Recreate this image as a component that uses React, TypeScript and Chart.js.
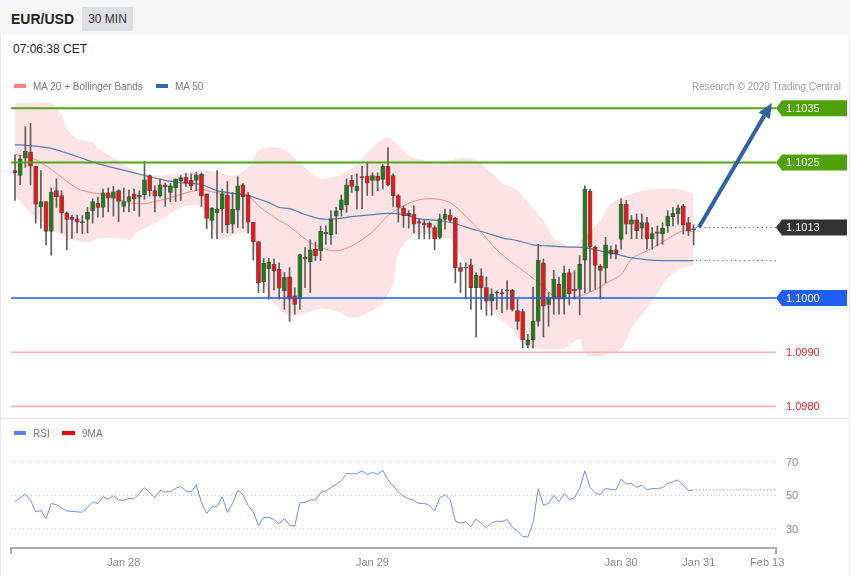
import React, { useEffect, useRef } from "react";
import { Chart, registerables } from "chart.js";

Chart.register(...registerables);

const FONT = '"Liberation Sans", Arial, Helvetica, sans-serif';

// ---------- Candles (EUR/USD, 30 min) ----------
const candleOpen = [
  1.10235, 1.10226, 1.10258, 1.10269, 1.10243, 1.10168, 1.10178, 1.10123, 1.10198, 1.10189,
  1.10157, 1.10149, 1.10146, 1.10139, 1.10145, 1.10161, 1.10175, 1.10167, 1.10194, 1.10184,
  1.10198, 1.10169, 1.10178, 1.10192, 1.10186, 1.10190, 1.10226, 1.10198, 1.10188, 1.10209,
  1.10195, 1.10203, 1.10216, 1.10223, 1.10217, 1.10217, 1.10228, 1.10192, 1.10143, 1.10157,
  1.10165, 1.10190, 1.10136, 1.10162, 1.10209, 1.10190, 1.10140, 1.10104, 1.10030, 1.10054,
  1.10062, 1.10053, 1.10013, 1.10039, 1.10004, 1.09998, 1.10075, 1.10067, 1.10090, 1.10087,
  1.10118, 1.10117, 1.10151, 1.10163, 1.10172, 1.10217, 1.10198, 1.10224, 1.10225, 1.10217,
  1.10225, 1.10219, 1.10243, 1.10226, 1.10189, 1.10166, 1.10156, 1.10155, 1.10141, 1.10138,
  1.10138, 1.10130, 1.10112, 1.10145, 1.10153, 1.10147, 1.10056, 1.10055, 1.10061, 1.10019,
  1.10041, 1.10019, 1.09994, 1.10011, 1.10010, 1.10013, 1.10014, 1.09977, 1.09975, 1.09914,
  1.09923, 1.09957, 1.10065, 1.09988, 1.09998, 1.10025, 1.09998, 1.10047, 1.10016, 1.10016,
  1.10070, 1.10197, 1.10094, 1.10059, 1.10055, 1.10081, 1.10089, 1.10108, 1.10173, 1.10136,
  1.10144, 1.10129, 1.10139, 1.10109, 1.10122, 1.10118, 1.10133, 1.10150, 1.10155, 1.10170,
  1.10139, 1.10126,
];
const candleHigh = [
  1.10264, 1.10263, 1.10316, 1.10322, 1.10243, 1.10235, 1.10178, 1.10203, 1.10220, 1.10198,
  1.10159, 1.10153, 1.10153, 1.10152, 1.10167, 1.10183, 1.10186, 1.10201, 1.10203, 1.10206,
  1.10200, 1.10203, 1.10199, 1.10201, 1.10198, 1.10252, 1.10227, 1.10207, 1.10220, 1.10212,
  1.10212, 1.10220, 1.10226, 1.10230, 1.10229, 1.10232, 1.10231, 1.10192, 1.10167, 1.10235,
  1.10201, 1.10215, 1.10195, 1.10224, 1.10211, 1.10195, 1.10140, 1.10104, 1.10073, 1.10073,
  1.10072, 1.10065, 1.10047, 1.10056, 1.10019, 1.10081, 1.10093, 1.10107, 1.10103, 1.10133,
  1.10133, 1.10161, 1.10167, 1.10190, 1.10220, 1.10226, 1.10229, 1.10243, 1.10249, 1.10231,
  1.10231, 1.10246, 1.10277, 1.10229, 1.10191, 1.10170, 1.10161, 1.10170, 1.10146, 1.10143,
  1.10141, 1.10133, 1.10155, 1.10164, 1.10163, 1.10149, 1.10065, 1.10065, 1.10072, 1.10047,
  1.10054, 1.10039, 1.10017, 1.10013, 1.10016, 1.10032, 1.10016, 1.09998, 1.09979, 1.09933,
  1.10020, 1.10099, 1.10072, 1.10010, 1.10051, 1.10038, 1.10059, 1.10053, 1.10050, 1.10078,
  1.10207, 1.10201, 1.10096, 1.10062, 1.10112, 1.10096, 1.10098, 1.10183, 1.10180, 1.10152,
  1.10155, 1.10155, 1.10149, 1.10130, 1.10133, 1.10139, 1.10161, 1.10167, 1.10172, 1.10173,
  1.10149, 1.10135,
];
const candleLow = [
  1.10180, 1.10209, 1.10241, 1.10209, 1.10138, 1.10129, 1.10098, 1.10079, 1.10167, 1.10120,
  1.10089, 1.10110, 1.10120, 1.10119, 1.10120, 1.10138, 1.10149, 1.10149, 1.10159, 1.10151,
  1.10141, 1.10159, 1.10159, 1.10161, 1.10151, 1.10182, 1.10188, 1.10159, 1.10186, 1.10169,
  1.10178, 1.10178, 1.10180, 1.10206, 1.10200, 1.10198, 1.10169, 1.10128, 1.10110, 1.10109,
  1.10121, 1.10120, 1.10120, 1.10130, 1.10129, 1.10120, 1.10070, 1.10010, 1.10010, 1.09998,
  1.10015, 1.09998, 1.09979, 1.09957, 1.09970, 1.09979, 1.10019, 1.10010, 1.10069, 1.10069,
  1.10099, 1.10099, 1.10118, 1.10151, 1.10158, 1.10195, 1.10164, 1.10165, 1.10189, 1.10189,
  1.10198, 1.10201, 1.10207, 1.10169, 1.10140, 1.10130, 1.10129, 1.10120, 1.10109, 1.10109,
  1.10109, 1.10089, 1.10109, 1.10127, 1.10140, 1.10028, 1.10010, 1.09998, 1.09979, 1.09928,
  1.09979, 1.09968, 1.09968, 1.09979, 1.09973, 1.09979, 1.09976, 1.09942, 1.09908, 1.09908,
  1.09908, 1.09948, 1.09928, 1.09948, 1.09970, 1.09970, 1.09970, 1.09988, 1.09998, 1.09969,
  1.10010, 1.10012, 1.10016, 1.09998, 1.10028, 1.10073, 1.10072, 1.10090, 1.10118, 1.10109,
  1.10109, 1.10109, 1.10090, 1.10090, 1.10096, 1.10099, 1.10121, 1.10133, 1.10136, 1.10118,
  1.10115, 1.10098,
];
const candleClose = [
  1.10231, 1.10257, 1.10271, 1.10243, 1.10173, 1.10178, 1.10123, 1.10195, 1.10187, 1.10157,
  1.10145, 1.10145, 1.10140, 1.10141, 1.10158, 1.10178, 1.10167, 1.10194, 1.10184, 1.10196,
  1.10178, 1.10178, 1.10187, 1.10183, 1.10190, 1.10218, 1.10198, 1.10188, 1.10209, 1.10205,
  1.10207, 1.10219, 1.10222, 1.10212, 1.10207, 1.10227, 1.10188, 1.10147, 1.10166, 1.10164,
  1.10192, 1.10135, 1.10164, 1.10207, 1.10187, 1.10140, 1.10104, 1.10028, 1.10064, 1.10066,
  1.10050, 1.10018, 1.10038, 1.09998, 1.09988, 1.10080, 1.10072, 1.10089, 1.10078, 1.10123,
  1.10121, 1.10146, 1.10161, 1.10181, 1.10209, 1.10206, 1.10206, 1.10222, 1.10212, 1.10226,
  1.10217, 1.10243, 1.10209, 1.10189, 1.10167, 1.10152, 1.10152, 1.10136, 1.10138, 1.10135,
  1.10130, 1.10109, 1.10146, 1.10155, 1.10143, 1.10056, 1.10049, 1.10056, 1.10019, 1.10042,
  1.10019, 1.09994, 1.10007, 1.10009, 1.10008, 1.10015, 1.09979, 1.09957, 1.09923, 1.09923,
  1.09957, 1.10070, 1.09985, 1.10001, 1.10035, 1.09998, 1.10046, 1.10008, 1.10013, 1.10062,
  1.10201, 1.10094, 1.10060, 1.10051, 1.10098, 1.10088, 1.10082, 1.10173, 1.10136, 1.10144,
  1.10124, 1.10139, 1.10109, 1.10119, 1.10119, 1.10129, 1.10151, 1.10156, 1.10166, 1.10135,
  1.10124, 1.10128,
];

// ---------- Indicators (read at candle indices) ----------
const ma50At = [0, 3, 7, 12, 16, 23, 29, 32, 36, 39, 42, 45, 49, 51, 53, 56, 59, 62, 65, 69, 72, 75, 78, 82, 85, 88, 91, 94, 97, 100, 103, 107, 110, 113, 116, 119, 123, 126, 131];
const ma50 = [
  1.10283, 1.10281, 1.10276, 1.10261, 1.10248, 1.10231, 1.10217, 1.10213, 1.10209, 1.10198,
  1.10193, 1.10189, 1.10176, 1.10167, 1.10165, 1.10154, 1.10146, 1.10146, 1.10150, 1.10154,
  1.10156, 1.10154, 1.10146, 1.10143, 1.10137, 1.10128, 1.10120, 1.10111, 1.10106, 1.10098,
  1.10096, 1.10094, 1.10093, 1.10087, 1.10081, 1.10074, 1.10070, 1.10069, 1.10069,
];
const ma20At = [0, 3, 5, 8, 12, 15, 18, 22, 25, 27, 30, 33, 36, 39, 42, 45, 47, 51, 53, 56, 59, 62, 65, 69, 72, 75, 78, 81, 84, 87, 89, 92, 94, 97, 99, 102, 104, 107, 109, 112, 114, 117, 119, 122, 125, 127, 129, 131];
const ma20 = [
  1.10265, 1.10259, 1.10250, 1.10230, 1.10202, 1.10194, 1.10189, 1.10176, 1.10174, 1.10178,
  1.10185, 1.10194, 1.10200, 1.10194, 1.10193, 1.10189, 1.10170, 1.10143, 1.10132, 1.10109,
  1.10093, 1.10087, 1.10096, 1.10122, 1.10152, 1.10170, 1.10181, 1.10183, 1.10176, 1.10151,
  1.10132, 1.10099, 1.10080, 1.10058, 1.10044, 1.10021, 1.10004, 1.10000, 1.10004, 1.10015,
  1.10027, 1.10043, 1.10072, 1.10087, 1.10103, 1.10115, 1.10124, 1.10122,
];
const bbUpperAt = [0, 7, 9, 10, 12, 15, 16, 19, 22, 24, 28, 32, 36, 39, 42, 45, 47, 49, 51, 53, 56, 59, 62, 65, 68, 70, 72, 74, 76, 79, 82, 84, 87, 89, 92, 94, 97, 99, 102, 104, 106, 108, 110, 113, 115, 117, 121, 127, 131];
const bbUpper = [
  1.10359, 1.10359, 1.10337, 1.10313, 1.10294, 1.10287, 1.10276, 1.10259, 1.10241, 1.10230,
  1.10226, 1.10231, 1.10235, 1.10233, 1.10226, 1.10241, 1.10272, 1.10278, 1.10276, 1.10267,
  1.10241, 1.10220, 1.10226, 1.10239, 1.10269, 1.10287, 1.10296, 1.10281, 1.10263, 1.10254,
  1.10250, 1.10254, 1.10259, 1.10254, 1.10231, 1.10213, 1.10198, 1.10176, 1.10143, 1.10111,
  1.10100, 1.10096, 1.10115, 1.10143, 1.10174, 1.10185, 1.10198, 1.10202, 1.10193,
];
const bbLowerAt = [0, 3, 7, 10, 14, 16, 20, 22, 24, 27, 30, 33, 36, 38, 40, 42, 45, 47, 49, 53, 59, 62, 65, 68, 71, 73, 74, 76, 79, 82, 84, 86, 88, 90, 93, 96, 98, 101, 106, 109, 110, 113, 117, 119, 123, 126, 129, 131];
const bbLower = [
  1.10189, 1.10157, 1.10128, 1.10111, 1.10102, 1.10109, 1.10111, 1.10106, 1.10124, 1.10137,
  1.10156, 1.10170, 1.10167, 1.10130, 1.10109, 1.10115, 1.10120, 1.10065, 1.10004, 1.09967,
  1.09980, 1.09976, 1.09963, 1.09972, 1.09991, 1.10028, 1.10083, 1.10109, 1.10120, 1.10111,
  1.10109, 1.10078, 1.10046, 1.10009, 1.09967, 1.09943, 1.09915, 1.09906, 1.09907, 1.09924,
  1.09896, 1.09893, 1.09906, 1.09944, 1.09994, 1.10037, 1.10056, 1.10059,
];

// RSI, one value per candle
const rsi = [
  46.2, 48.6, 50.6, 47.2, 40.2, 41.0, 36.0, 45.2, 44.4, 42.4,
  40.8, 40.4, 40.2, 40.0, 42.8, 46.2, 45.0, 49.2, 47.8, 49.8,
  47.2, 47.0, 48.2, 48.0, 51.2, 54.6, 51.6, 48.6, 53.0, 52.0,
  52.2, 54.2, 55.2, 52.6, 52.0, 56.2, 45.6, 39.2, 43.2, 43.2,
  49.2, 39.8, 45.2, 53.0, 50.4, 44.0, 40.0, 32.0, 36.8, 37.0,
  35.6, 33.0, 36.2, 32.4, 31.6, 45.6, 45.8, 47.2, 47.2, 51.6,
  52.6, 54.6, 56.6, 58.6, 63.0, 62.8, 62.8, 64.6, 62.2, 63.8,
  62.4, 64.8, 59.2, 55.6, 52.0, 49.4, 48.0, 47.0, 45.2, 45.2,
  44.0, 40.6, 48.6, 50.4, 47.6, 34.6, 33.6, 34.2, 31.2, 36.0,
  33.2, 30.8, 33.6, 34.6, 34.4, 35.6, 31.2, 28.6, 25.6, 25.2,
  33.6, 54.0, 44.0, 45.2, 50.0, 46.2, 51.2, 47.6, 48.4, 54.0,
  64.6, 54.6, 51.6, 50.4, 54.0, 53.6, 53.2, 59.6, 56.8, 57.0,
  54.8, 56.0, 53.2, 54.0, 54.0, 54.6, 57.0, 58.0, 59.2, 56.0,
  52.8, 53.2,
];
const rsiLevels = [70, 50, 30];

// ---------- Levels / annotations ----------
const resistanceLevels = [1.1035, 1.1025];
const supportLevel = 1.1;
const lowerLevels = [1.099, 1.098];
const lastPrice = 1.1013;
const arrowFrom = [132, 1.1013];
const arrowTo = [146.1, 1.1036];

// ---------- Time axis ----------
const dateLabels = ["Jan 28", "Jan 29", "Jan 30", "Jan 31", "Feb 13"];
const dateAt = [21, 69, 117, 132, 145.2];

// ---------- scale windows ----------
const X_MIN = -0.77;
const X_MAX = 146.9;
const P_MIN = 1.0978413;
const P_MAX = 1.1037454;
const R_MIN = 18.7;
const R_MAX = 79.9;

const GREEN = "#1b7d1b";
const RED = "#ec1515";

function pts(xs: number[], ys: number[]) {
  return xs.map((x, k) => ({ x, y: ys[k] }));
}

function drawTag(ctx: CanvasRenderingContext2D, x: number, y: number, text: string, color: string) {
  ctx.fillStyle = color;
  ctx.beginPath();
  ctx.moveTo(x, y);
  ctx.lineTo(x + 6, y - 8);
  ctx.lineTo(847, y - 8);
  ctx.lineTo(847, y + 8);
  ctx.lineTo(x + 6, y + 8);
  ctx.closePath();
  ctx.fill();
  ctx.fillStyle = "#ffffff";
  ctx.font = `11px ${FONT}`;
  ctx.textBaseline = "middle";
  ctx.textAlign = "left";
  ctx.fillText(text, x + 10, y + 0.5);
}

function MainChart() {
  const ref = useRef<HTMLCanvasElement>(null);
  useEffect(() => {
    const idx = candleOpen.map((_, i) => i);
    const bodies = idx.map((i) => ({ x: i, y: [candleOpen[i], candleClose[i]] }));
    const wicks = idx.map((i) => ({ x: i, y: [candleLow[i], candleHigh[i]] }));
    const bodyColors = idx.map((i) => (candleClose[i] >= candleOpen[i] ? GREEN : RED));

    const overlay = {
      id: "overlay",
      afterDatasetsDraw(chart: any) {
        const { ctx, chartArea: ca, scales } = chart;
        const xs = scales.x;
        const ys = scales.y;
        ctx.save();
        resistanceLevels.forEach((p) => {
          const y = ys.getPixelForValue(p);
          ctx.strokeStyle = "#54a514";
          ctx.lineWidth = 2;
          ctx.beginPath();
          ctx.moveTo(ca.left, y);
          ctx.lineTo(ca.right, y);
          ctx.stroke();
          drawTag(ctx, ca.right, y, p.toFixed(4), "#4ea106");
        });
        {
          const y = ys.getPixelForValue(supportLevel);
          ctx.strokeStyle = "#1d5cf2";
          ctx.lineWidth = 1.3;
          ctx.beginPath();
          ctx.moveTo(ca.left, y);
          ctx.lineTo(ca.right, y);
          ctx.stroke();
          drawTag(ctx, ca.right, y, supportLevel.toFixed(4), "#1f5ff6");
        }
        lowerLevels.forEach((p) => {
          const y = ys.getPixelForValue(p);
          ctx.strokeStyle = "#ffb0b0";
          ctx.lineWidth = 1.6;
          ctx.beginPath();
          ctx.moveTo(ca.left, y);
          ctx.lineTo(ca.right, y);
          ctx.stroke();
          ctx.fillStyle = "#f42020";
          ctx.font = `11px ${FONT}`;
          ctx.textBaseline = "middle";
          ctx.textAlign = "left";
          ctx.fillText(p.toFixed(4), ca.right + 10, y + 0.5);
        });
        const lastI = candleClose.length - 1;
        const xl = xs.getPixelForValue(lastI) + 2;
        {
          const y = ys.getPixelForValue(lastPrice);
          ctx.strokeStyle = "#555";
          ctx.lineWidth = 1;
          ctx.setLineDash([1.2, 3.2]);
          ctx.beginPath();
          ctx.moveTo(xl, y);
          ctx.lineTo(ca.right, y);
          ctx.stroke();
          ctx.setLineDash([]);
          drawTag(ctx, ca.right, y, lastPrice.toFixed(4), "#333333");
        }
        {
          const y = ys.getPixelForValue(ma50[ma50.length - 1]);
          ctx.strokeStyle = "#3763ad";
          ctx.lineWidth = 1;
          ctx.setLineDash([1.2, 3.2]);
          ctx.beginPath();
          ctx.moveTo(xl, y);
          ctx.lineTo(ca.right, y);
          ctx.stroke();
          ctx.setLineDash([]);
        }
        {
          const x0 = xs.getPixelForValue(arrowFrom[0]);
          const y0 = ys.getPixelForValue(arrowFrom[1]);
          const x1 = xs.getPixelForValue(arrowTo[0]);
          const y1 = ys.getPixelForValue(arrowTo[1]);
          const ang = Math.atan2(y1 - y0, x1 - x0);
          const head = 15;
          const hw = 6.5;
          const bx = x1 - head * Math.cos(ang);
          const by = y1 - head * Math.sin(ang);
          ctx.strokeStyle = "#2f62a4";
          ctx.fillStyle = "#2f62a4";
          ctx.lineWidth = 4;
          ctx.lineCap = "butt";
          ctx.beginPath();
          ctx.moveTo(x0, y0);
          ctx.lineTo(bx, by);
          ctx.stroke();
          ctx.beginPath();
          ctx.moveTo(x1, y1);
          ctx.lineTo(bx + hw * Math.sin(ang), by - hw * Math.cos(ang));
          ctx.lineTo(bx - hw * Math.sin(ang), by + hw * Math.cos(ang));
          ctx.closePath();
          ctx.fill();
        }
        ctx.restore();
      },
    };

    const chart = new Chart(ref.current as HTMLCanvasElement, {
      type: "bar",
      data: {
        datasets: [
          {
            type: "line",
            data: pts(bbUpperAt, bbUpper),
            borderWidth: 0,
            borderColor: "rgba(0,0,0,0)",
            pointRadius: 0,
            tension: 0.3,
            fill: "+1",
            backgroundColor: "#fde3e3",
            order: 10,
          },
          {
            type: "line",
            data: pts(bbLowerAt, bbLower),
            borderWidth: 0,
            borderColor: "rgba(0,0,0,0)",
            pointRadius: 0,
            tension: 0.3,
            fill: false,
            order: 9,
          },
          {
            type: "line",
            data: pts(ma20At, ma20),
            borderColor: "#ff8a8a",
            borderWidth: 1,
            pointRadius: 0,
            tension: 0.3,
            fill: false,
            order: 8,
          },
          {
            type: "line",
            data: pts(ma50At, ma50),
            borderColor: "#5a7bb5",
            borderWidth: 1.2,
            pointRadius: 0,
            tension: 0.3,
            fill: false,
            order: 7,
          },
          {
            type: "bar",
            data: wicks as any,
            backgroundColor: "#5e5e5e",
            barThickness: 1,
            grouped: false,
            order: 3,
          },
          {
            type: "bar",
            data: bodies as any,
            backgroundColor: bodyColors,
            borderColor: "rgba(45,45,45,0.75)",
            borderWidth: 0.8,
            borderSkipped: false,
            barThickness: 4.2,
            minBarLength: 1,
            grouped: false,
            order: 2,
          },
        ] as any,
      },
      options: {
        responsive: false,
        animation: false,
        events: [],
        layout: { padding: { left: 11, right: 74, top: 59, bottom: 3 } },
        scales: {
          x: { type: "linear", min: X_MIN, max: X_MAX, display: false, offset: false },
          y: { type: "linear", min: P_MIN, max: P_MAX, display: false },
        },
        plugins: {
          legend: { display: false },
          tooltip: { enabled: false },
          filler: { drawTime: "beforeDatasetsDraw" },
        } as any,
      },
      plugins: [overlay],
    });
    return () => chart.destroy();
  }, []);
  return <canvas ref={ref} width={850} height={382} style={{ display: "block", width: 850, height: 382 }} />;
}

function RsiChart() {
  const ref = useRef<HTMLCanvasElement>(null);
  useEffect(() => {
    const overlay = {
      id: "rsiOverlay",
      beforeDatasetsDraw(chart: any) {
        const { ctx, chartArea: ca, scales } = chart;
        const ys = scales.y;
        ctx.save();
        rsiLevels.forEach((v) => {
          const y = ys.getPixelForValue(v);
          ctx.strokeStyle = "#bdbdbd";
          ctx.lineWidth = 1;
          ctx.setLineDash([1, 3]);
          ctx.beginPath();
          ctx.moveTo(ca.left, y);
          ctx.lineTo(ca.right, y);
          ctx.stroke();
          ctx.setLineDash([]);
          ctx.fillStyle = "#8a8a8a";
          ctx.font = `11px ${FONT}`;
          ctx.textBaseline = "middle";
          ctx.textAlign = "left";
          ctx.fillText(String(v), ca.right + 10, y + 1);
        });
        ctx.restore();
      },
      afterDatasetsDraw(chart: any) {
        const { ctx, chartArea: ca, scales } = chart;
        const xs = scales.x;
        const ys = scales.y;
        ctx.save();
        const lastI = rsi.length - 1;
        const y = ys.getPixelForValue(rsi[lastI]);
        ctx.strokeStyle = "#6f8fee";
        ctx.lineWidth = 1;
        ctx.setLineDash([1.2, 2.2]);
        ctx.beginPath();
        ctx.moveTo(xs.getPixelForValue(lastI) + 2, y);
        ctx.lineTo(ca.right, y);
        ctx.stroke();
        ctx.setLineDash([]);
        const b = ca.bottom;
        ctx.strokeStyle = "#ababab";
        ctx.lineWidth = 2;
        ctx.beginPath();
        ctx.moveTo(ca.left, b + 6);
        ctx.lineTo(ca.left, b);
        ctx.lineTo(ca.right, b);
        ctx.lineTo(ca.right, b + 6);
        ctx.stroke();
        ctx.fillStyle = "#888";
        ctx.font = `11px ${FONT}`;
        ctx.textAlign = "center";
        ctx.textBaseline = "middle";
        dateLabels.forEach((t, k) => {
          ctx.fillText(t, xs.getPixelForValue(dateAt[k]), b + 14.5);
        });
        ctx.restore();
      },
    };
    const chart = new Chart(ref.current as HTMLCanvasElement, {
      type: "line",
      data: {
        datasets: [
          {
            data: rsi.map((v, i) => ({ x: i, y: v })),
            borderColor: "#6f8fee",
            borderWidth: 1,
            pointRadius: 0,
            fill: false,
            tension: 0,
          },
        ],
      },
      options: {
        responsive: false,
        animation: false,
        events: [],
        layout: { padding: { left: 11, right: 74, top: 27, bottom: 28 } },
        scales: {
          x: { type: "linear", min: X_MIN, max: X_MAX, display: false },
          y: { type: "linear", min: R_MIN, max: R_MAX, display: false },
        },
        plugins: { legend: { display: false }, tooltip: { enabled: false } },
      },
      plugins: [overlay],
    });
    return () => chart.destroy();
  }, []);
  return <canvas ref={ref} width={850} height={158} style={{ display: "block", width: 850, height: 158 }} />;
}

const abs = (o: any): React.CSSProperties => ({ position: "absolute", ...o });

export default function App() {
  const txt: React.CSSProperties = { fontFamily: FONT, whiteSpace: "nowrap" };
  return (
    <div style={abs({ left: 0, top: 0, width: 850, height: 576, background: "#fff", overflow: "hidden", ...txt })}>
      <div style={abs({ left: 0, top: 0, width: 850, height: 35, background: "#f6f6f6" })} />
      <div style={abs({ left: 11, top: 11, height: 16, lineHeight: "16px", fontSize: 14, fontWeight: "bold", color: "#222" })}>EUR/USD</div>
      <div style={abs({ left: 82, top: 7, width: 51, height: 24, lineHeight: "24px", background: "#dfe0e4", fontSize: 12, color: "#333", textAlign: "center" })}>30 MIN</div>
      <div style={abs({ left: 13, top: 41, height: 16, lineHeight: "16px", fontSize: 12, color: "#222" })}>07:06:38 CET</div>
      <div style={abs({ left: 0, top: 35, width: 1, height: 541, background: "#e9e9e9" })} />
      <div style={abs({ left: 849, top: 35, width: 1, height: 541, background: "#e9e9e9" })} />
      <div style={abs({ left: 0, top: 36, width: 850, height: 382 })}>
        <MainChart />
      </div>
      <div style={abs({ left: 14, top: 84, width: 12, height: 4, background: "#ff8585" })} />
      <div style={abs({ left: 33, top: 81, height: 12, lineHeight: "12px", fontSize: 10, color: "#777" })}>MA 20 + Bollinger Bands</div>
      <div style={abs({ left: 156, top: 84, width: 12, height: 4, background: "#3763ad" })} />
      <div style={abs({ left: 175, top: 81, height: 12, lineHeight: "12px", fontSize: 10, color: "#777" })}>MA 50</div>
      <div style={abs({ right: 9, top: 81, height: 12, lineHeight: "12px", fontSize: 10, color: "#9a9a9a" })}>Research © 2020 Trading Central</div>
      <div style={abs({ left: 0, top: 418, width: 850, height: 1, background: "#e6e6e6" })} />
      <div style={abs({ left: 0, top: 418, width: 850, height: 158 })}>
        <RsiChart />
      </div>
      <div style={abs({ left: 14, top: 431, width: 12, height: 4, background: "#5b80e6" })} />
      <div style={abs({ left: 33, top: 428, height: 12, lineHeight: "12px", fontSize: 10, color: "#777" })}>RSI</div>
      <div style={abs({ left: 62, top: 431, width: 13, height: 4, background: "#ee0000" })} />
      <div style={abs({ left: 82, top: 428, height: 12, lineHeight: "12px", fontSize: 10, color: "#777" })}>9MA</div>
    </div>
  );
}
